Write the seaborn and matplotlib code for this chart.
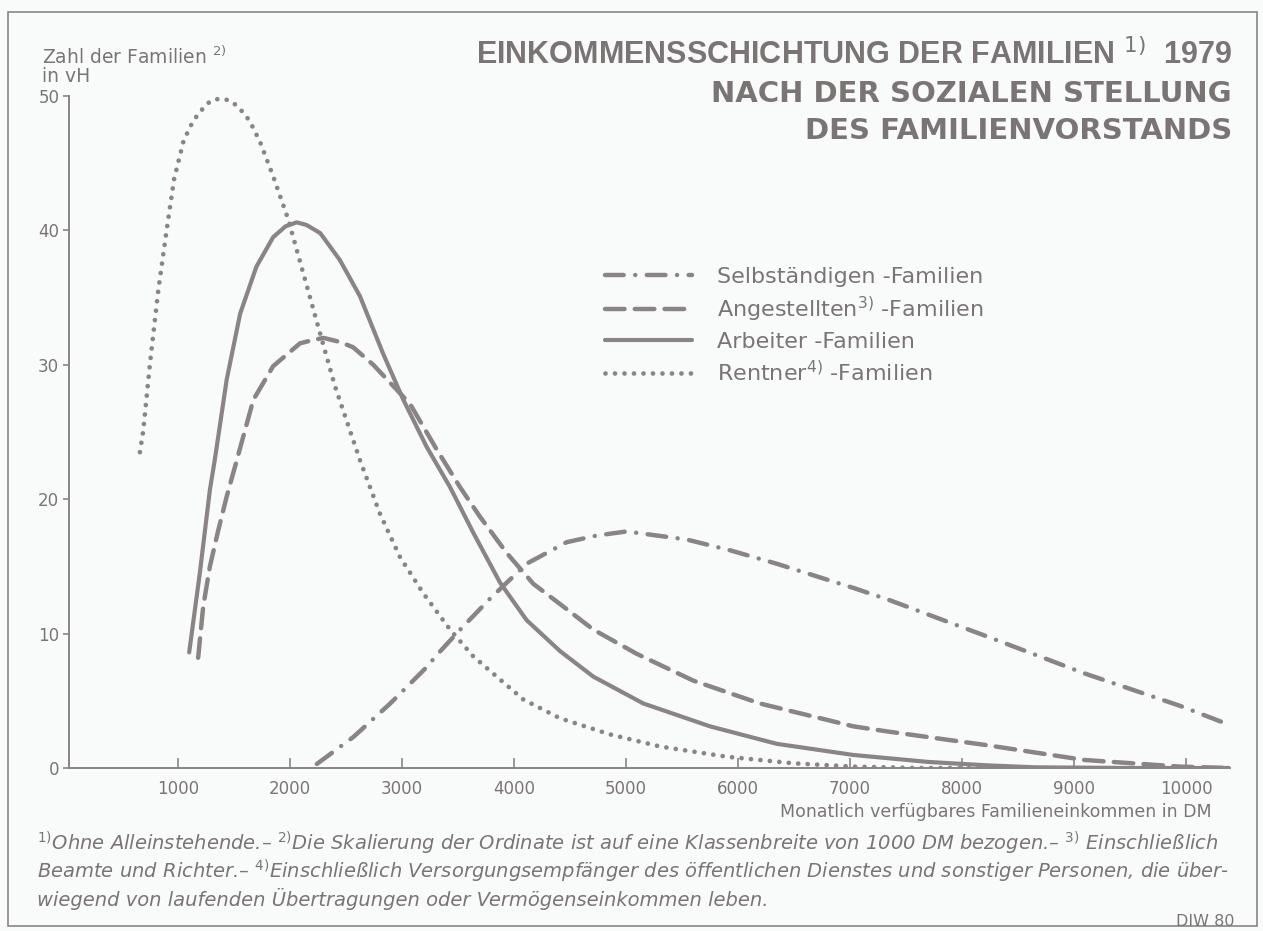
import numpy as np
import pandas as pd
import seaborn as sns
import matplotlib.pyplot as plt
from matplotlib.patches import Rectangle

# Werte (x = DM, y = vH)
x_selb = [2240, 2565, 2895, 3220, 3310, 3520, 3786, 4113, 4470, 4740, 5006, 5542, 5929, 6345, 7030, 7350,
          8220, 9090, 9955, 10390]
y_selb = [0.3, 2.3, 4.8, 7.5, 8.4, 10.3, 12.6, 15.2, 16.8, 17.3, 17.6, 17.0, 16.2, 15.2, 13.4, 12.5,
          9.8, 7.05, 4.6, 3.2]

x_ang = [1180, 1225, 1285, 1360, 1435, 1525, 1673, 1850, 2090, 2208, 2300, 2446, 2565, 2744, 3071, 3310,
         3518, 3696, 3935, 4173, 4411, 4708, 5095, 5601, 6196, 7030, 7350, 8220, 9090, 9950, 10390]
y_ang = [8.2, 12.0, 15.0, 17.7, 20.2, 22.9, 27.4, 29.9, 31.6, 31.85, 32.0, 31.7, 31.3, 30.0, 27.1, 23.7,
         20.9, 18.7, 16.0, 13.7, 12.2, 10.3, 8.5, 6.5, 4.8, 3.1, 2.7, 1.7, 0.6, 0.1, 0.0]

x_arb = [1100, 1195, 1285, 1330, 1435, 1555, 1700, 1850, 1960, 2060, 2149, 2270, 2445, 2625, 2833, 3012,
         3220, 3429, 3637, 3875, 4113, 4411, 4708, 5155, 5750, 6345, 7030, 7700, 8220, 8650, 9500, 10390]
y_arb = [8.6, 14.5, 20.7, 23.0, 28.9, 33.8, 37.3, 39.5, 40.3, 40.6, 40.4, 39.8, 37.8, 35.1, 30.8, 27.4,
         23.9, 20.9, 17.5, 13.8, 11.0, 8.7, 6.8, 4.8, 3.1, 1.8, 0.97, 0.45, 0.2, 0.05, 0.0, 0.0]

x_rent = [660, 690, 750, 825, 895, 965, 1048, 1107, 1167, 1226, 1286, 1366, 1449, 1524, 1589, 1643, 1732,
          1851, 1985, 2119, 2253, 2402, 2625, 2804, 2982, 3190, 3429, 3637, 4083, 4411, 4857, 5304, 5899,
          6494, 7030, 7600, 8600]
y_rent = [23.5, 25.1, 30.1, 35.6, 39.8, 43.8, 46.6, 47.7, 48.5, 49.1, 49.6, 49.8, 49.7, 49.3, 48.7, 48.1, 46.6,
          44.0, 40.8, 36.8, 32.8, 28.4, 22.9, 18.9, 15.7, 13.0, 10.3, 8.3, 5.1, 3.7, 2.5, 1.6, 0.84,
          0.35, 0.1, 0.0, 0.0]

labels = ['Selbständigen -Familien', r'Angestellten$^{\rm 3)}$ -Familien',
          'Arbeiter -Familien', r'Rentner$^{\rm 4)}$ -Familien']
xticks = [1000, 2000, 3000, 4000, 5000, 6000, 7000, 8000, 9000, 10000]
yticks = [0, 10, 20, 30, 40, 50]

sns.set_theme(style='white')
plt.rcParams['font.family'] = ['DejaVu Sans']
plt.rcParams['mathtext.fontset'] = 'dejavusans'

grey = '#8a8485'
tgrey = '#7b7475'
bg = '#f9fbfb'

fig = plt.figure(figsize=(12.63, 9.31), dpi=100, facecolor=bg)
ax = fig.add_axes([69/1263, 1-768/931, (1230-69)/1263, (768-96)/931])
ax.set_facecolor(bg)

styles = [
    (x_selb, y_selb, 3.2, (0, (4.2, 2.6, 0.01, 2.6))),
    (x_ang, y_ang, 3.2, (0, (4.4, 2.3))),
    (x_arb, y_arb, 3.0, '-'),
    (x_rent, y_rent, 3.4, (0, (0.01, 2.0))),
]
for (xs, ys, lw, ls), lab in zip(styles, labels):
    df = pd.DataFrame({'x': xs, 'y': ys})
    sns.lineplot(data=df, x='x', y='y', ax=ax, color=grey, lw=lw, linestyle=ls,
                 dash_capstyle='round', solid_capstyle='round', solid_joinstyle='round', label=lab)

ax.set_xlim(27, 10393)
ax.set_ylim(0, 50)
ax.set_xticks(xticks)
ax.set_yticks(yticks)
ax.set_xlabel('')
ax.set_ylabel('')
ax.tick_params(axis='x', direction='in', length=7, width=1.2, colors=grey, labelcolor=tgrey,
               labelsize=12, pad=9, bottom=True)
ax.tick_params(axis='y', direction='out', length=4, width=1.2, colors=grey, labelcolor=tgrey,
               labelsize=12, pad=3, left=True)
sns.despine(ax=ax)
for s in ['left', 'bottom']:
    ax.spines[s].set_color(grey)
    ax.spines[s].set_linewidth(1.4)

leg = ax.legend(loc='upper left', bbox_to_anchor=(0.4617, 0.746), frameon=False, fontsize=16,
                handlelength=3.9, handletextpad=1.15, labelspacing=0.36, borderpad=0, borderaxespad=0)
for t in leg.get_texts():
    t.set_color(tgrey)

# Titel
fig.text(1232/1263, 1-55/931, r'EINKOMMENSSCHICHTUNG DER FAMILIEN $^{\rm 1)}$  1979', ha='right', va='center',
         fontsize=22, fontweight='bold', color=tgrey, family=['Liberation Sans Narrow', 'Liberation Sans'])
tkw = dict(ha='right', va='center', fontsize=21, fontweight='bold', color=tgrey)
fig.text(1232/1263, 1-94/931, 'NACH DER SOZIALEN STELLUNG', **tkw)
fig.text(1232/1263, 1-131/931, 'DES FAMILIENVORSTANDS', **tkw)

fig.text(42/1263, 1-57/931, r'Zahl der Familien $^{\rm 2)}$', ha='left', va='center', fontsize=13.5, color=tgrey)
fig.text(42/1263, 1-76/931, 'in vH', ha='left', va='center', fontsize=13.5, color=tgrey)

fig.text(1212/1263, 1-812/931, 'Monatlich verfügbares Familieneinkommen in DM', ha='right', va='center',
         fontsize=12.5, color=tgrey)

foot = [
    r'$^{\rm 1)}$Ohne Alleinstehende.– $^{\rm 2)}$Die Skalierung der Ordinate ist auf eine Klassenbreite von 1000 DM bezogen.– $^{\rm 3)}$ Einschließlich',
    r'Beamte und Richter.– $^{\rm 4)}$Einschließlich Versorgungsempfänger des öffentlichen Dienstes und sonstiger Personen, die über-',
    'wiegend von laufenden Übertragungen oder Vermögenseinkommen leben.',
]
for i, line in enumerate(foot):
    fig.text(37/1263, 1-(843 + 28*i)/931, line, ha='left', va='center', fontsize=14, style='italic',
             color=tgrey)

fig.text(1234/1263, 1-921/931, 'DIW 80', ha='right', va='center', fontsize=11.5, color=tgrey)

fig.patches.append(Rectangle((8/1263, 1-926/931), 1249/1263, 914/931, transform=fig.transFigure,
                             fill=False, edgecolor=grey, lw=1.2))

fig.savefig('out.png', dpi=100, facecolor=bg)
